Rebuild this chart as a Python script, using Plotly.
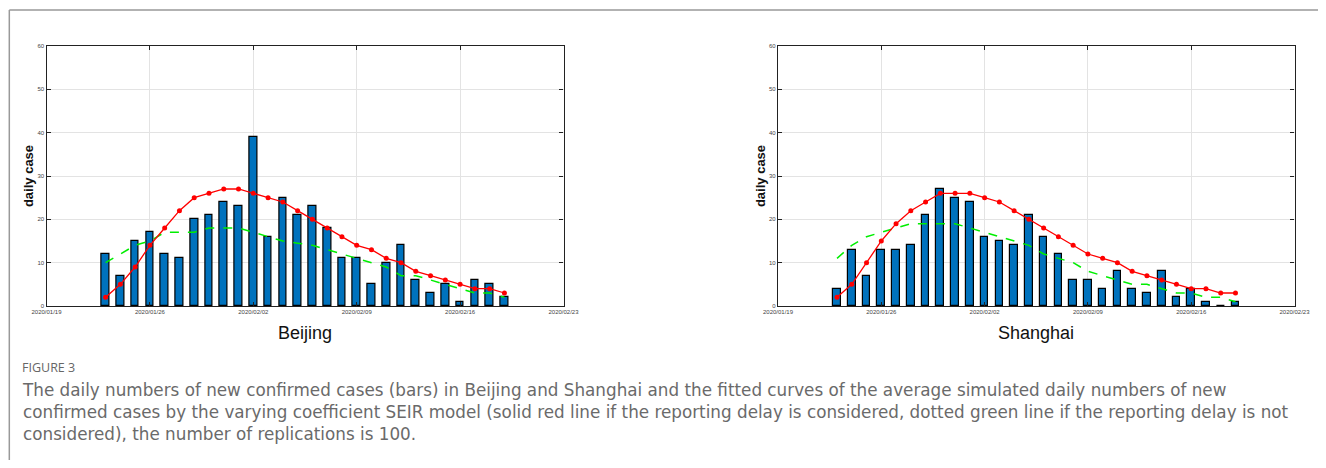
import plotly.graph_objects as go
import pandas as pd

dates = pd.date_range("2020-01-23", "2020-02-19", freq="D")
week_ticks = ["2020-01-19", "2020-01-26", "2020-02-02", "2020-02-09", "2020-02-16", "2020-02-23"]
week_labels = ["2020/01/19", "2020/01/26", "2020/02/02", "2020/02/09", "2020/02/16", "2020/02/23"]
y_ticks = [0, 10, 20, 30, 40, 50, 60]

beijing_bars = [12, 7, 15, 17, 12, 11, 20, 21, 24, 23, 39, 16, 25, 21, 23, 18, 11, 11, 5, 10, 14, 6, 3, 5, 1, 6, 5, 2]
beijing_red = [2, 5, 9, 14, 18, 22, 25, 26, 27, 27, 26, 25, 24, 22, 20, 18, 16, 14, 13, 11, 10, 8, 7, 6, 5, 4, 4, 3]
beijing_green = [10, 12, 14, 15, 17, 17, 17, 18, 18, 18, 17, 16, 15, 14.5, 14, 13, 12, 11, 10, 9, 7, 7, 6, 5, 4, 3, 3, 2]

shanghai_bars = [4, 13, 7, 13, 13, 14, 21, 27, 25, 24, 16, 15, 14, 21, 16, 12, 6, 6, 4, 8, 4, 3, 8, 2, 4, 1, 0, 1]
shanghai_red = [2, 5, 10, 15, 19, 22, 24, 26, 26, 26, 25, 24, 22, 20, 18, 16, 14, 12, 11, 10, 8, 7, 6, 5, 4, 4, 3, 3]
shanghai_green = [11, 14, 16, 17, 18, 19, 19, 19, 19, 18, 17, 16, 15, 14, 12, 11, 10, 8, 7, 6, 5, 5, 4, 3, 3, 2, 2, 1]

cities = ["Beijing", "Shanghai"]
panels = [(beijing_bars, beijing_red, beijing_green), (shanghai_bars, shanghai_red, shanghai_green)]

caption_label = "FIGURE 3"
caption_lines = [
    "The daily numbers of new confirmed cases (bars) in Beijing and Shanghai and the fitted curves of the average simulated daily numbers of new",
    "confirmed cases by the varying coefficient SEIR model (solid red line if the reporting delay is considered, dotted green line if the reporting delay is not",
    "considered), the number of replications is 100.",
]

# the page body adds an 8px margin; size the figure so it fills the window
OFF = 8
W, H = 1326 - 2 * OFF, 468 - 2 * OFF


def px(x):
    return (x - OFF) / W


def py(y):
    return 1 - (y - OFF) / H


x_domains = [[px(46.5), px(563.5)], [px(778.0), px(1294.5)]]
y_domain = [py(306), py(46)]

fig = go.Figure()
bar_width_ms = 0.52 * 24 * 3600 * 1000

for i, (city, (bars, red, green)) in enumerate(zip(cities, panels)):
    xa = "x" if i == 0 else "x2"
    ya = "y" if i == 0 else "y2"
    fig.add_trace(go.Bar(x=dates, y=bars, xaxis=xa, yaxis=ya, width=bar_width_ms,
                         marker=dict(color="#0072BD", line=dict(color="black", width=1.2)),
                         showlegend=False))
    fig.add_trace(go.Scatter(x=dates, y=green, xaxis=xa, yaxis=ya, mode="lines",
                             line=dict(color="#00EE00", width=1.5, dash="dash"),
                             showlegend=False))
    fig.add_trace(go.Scatter(x=dates, y=red, xaxis=xa, yaxis=ya, mode="lines+markers",
                             line=dict(color="#FF0000", width=1.3),
                             marker=dict(color="#FF0000", size=5),
                             showlegend=False))

axis_common = dict(showline=True, linecolor="#222", linewidth=1.2, mirror="allticks",
                   ticks="inside", ticklen=4, tickcolor="#222", automargin=False,
                   showgrid=True, gridcolor="#E3E3E3", gridwidth=1.2, zeroline=False,
                   tickfont=dict(family="Liberation Sans, Arial", size=6, color="#444"))

for i in range(2):
    sfx = "" if i == 0 else "2"
    fig.update_layout(**{
        "xaxis" + sfx: dict(axis_common, domain=x_domains[i], type="date",
                            range=["2020-01-19", "2020-02-23"],
                            tickmode="array", tickvals=week_ticks, ticktext=week_labels,
                            anchor="y" + sfx),
        "yaxis" + sfx: dict(axis_common, domain=y_domain, range=[0, 60],
                            tickmode="array", tickvals=y_ticks,
                            anchor="x" + sfx,
                            title=dict(text="<b>daily case</b>", standoff=0,
                                       font=dict(family="Liberation Sans, Arial", size=13, color="#111"))),
    })

annotations = []
for i, city in enumerate(cities):
    cx = (x_domains[i][0] + x_domains[i][1]) / 2
    annotations.append(dict(text=city, x=cx, y=py(333), xref="paper", yref="paper",
                            showarrow=False, xanchor="center", yanchor="middle",
                            font=dict(family="Liberation Sans, Arial", size=18, color="#111")))

annotations.append(dict(text=caption_label, x=px(20), y=py(367), xref="paper", yref="paper",
                        showarrow=False, xanchor="left", yanchor="middle",
                        font=dict(family="Open Sans", size=12.5, color="#666")))
annotations.append(dict(text="<br>".join(caption_lines), x=px(20), y=py(411.5), xref="paper", yref="paper",
                        showarrow=False, xanchor="left", yanchor="middle", align="left",
                        font=dict(family="DejaVu Sans", size=16.8, color="#6a6a6a")))

frame = dict(color="#999", width=1.5)
fig.update_layout(
    width=W, height=H, margin=dict(l=0, r=0, t=0, b=0, autoexpand=False),
    paper_bgcolor="white", plot_bgcolor="white",
    bargap=0, annotations=annotations,
    shapes=[
        dict(type="line", xref="paper", yref="paper", x0=0.001, x1=0.001, y0=0, y1=py(10), line=frame),
        dict(type="line", xref="paper", yref="paper", x0=0.001, x1=1, y0=py(10), y1=py(10), line=frame),
    ],
)

fig.write_html("out.html")
